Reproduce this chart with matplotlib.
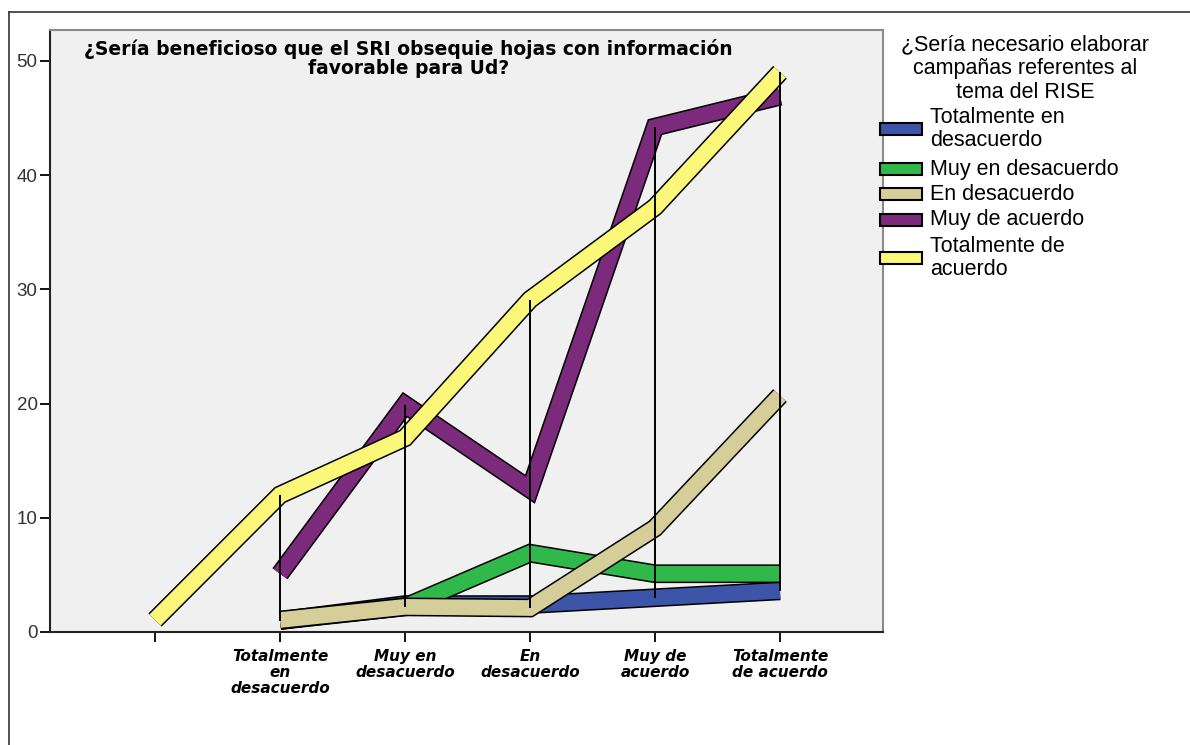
import matplotlib
matplotlib.use("Agg")
import matplotlib.pyplot as plt
import matplotlib.patheffects as pe
from matplotlib.lines import Line2D
from matplotlib.patches import Rectangle
import numpy as np

# categories along the x axis (first one is the blank / missing answer)
categories = ["", "Totalmente\nen\ndesacuerdo", "Muy en\ndesacuerdo", "En\ndesacuerdo",
              "Muy de\nacuerdo", "Totalmente\nde acuerdo"]

# one series per answer of the second question (nan = no value)
series_names = ["Totalmente en\ndesacuerdo", "Muy en desacuerdo", "En desacuerdo",
                "Muy de acuerdo", "Totalmente de\nacuerdo"]
tot_desacuerdo = [np.nan, 1.0, 2.4, 2.4, 3.0, 3.6]
muy_desacuerdo = [np.nan, 1.0, 2.2, 6.9, 5.1, 5.1]
en_desacuerdo = [np.nan, 1.05, 2.2, 2.1, 9.1, 20.7]
muy_acuerdo = [np.nan, 5.1, 19.9, 12.5, 44.2, 46.9]
tot_acuerdo = [1.05, 12.0, 17.0, 29.1, 37.2, 49.0]

colors = ["#3c55a9", "#30b84a", "#d5ce99", "#7c2a7c", "#fbf778"]

W, H = 1190, 745
fig = plt.figure(figsize=(W / 100, H / 100), dpi=100)
fig.patch.set_facecolor("white")

# plot area in pixels: left 50, right 883, top 30, bottom 632
ax = fig.add_axes([50 / W, (H - 632) / H, 833 / W, 602 / H])
ax.set_facecolor("#f0f0f0")

x = np.arange(len(categories))
all_series = [tot_desacuerdo, muy_desacuerdo, en_desacuerdo, muy_acuerdo, tot_acuerdo]

for vals, col in zip(all_series, colors):
    ax.plot(x, vals, color=col, lw=11.3, solid_joinstyle="miter", solid_capstyle="butt",
            path_effects=[pe.Stroke(linewidth=13.5, foreground="black",
                                    joinstyle="miter", capstyle="butt"),
                          pe.Normal()], zorder=2)

# drop lines from lowest to highest value at each category
data = np.array(all_series, dtype=float)
for i in x:
    col = data[:, i]
    col = col[~np.isnan(col)]
    if len(col) > 1:
        ax.vlines(i, col.min(), col.max(), color="black", lw=1.4, zorder=3)

ax.set_xlim(-0.84, 5.824)
ax.set_ylim(0, 52.7)
ax.set_yticks([0, 10, 20, 30, 40, 50])
ax.set_xticks(x)
ax.set_xticklabels(categories, fontsize=11, fontweight="heavy", fontstyle="italic",
                   linespacing=1.1, family="DejaVu Sans")
ax.tick_params(axis="y", length=7, width=1.3, labelsize=13.5, labelcolor="#333333",
               pad=2)
ax.tick_params(axis="x", length=7, width=1.3, pad=5)
for lab in ax.get_yticklabels():
    lab.set_family("Liberation Sans")

for side in ["left", "bottom"]:
    ax.spines[side].set_linewidth(1.5)
    ax.spines[side].set_color("#222222")
for side in ["top", "right"]:
    ax.spines[side].set_linewidth(1.5)
    ax.spines[side].set_color("#8a8a8a")

ax.text(0.43, 0.985,
        "¿Sería beneficioso que el SRI obsequie hojas con información\nfavorable para Ud?",
        transform=ax.transAxes, ha="center", va="top", fontsize=13.5,
        fontweight="bold", linespacing=1.0, family="DejaVu Sans")

# legend drawn on the right side of the figure
fig.text(1025 / W, 1 - 34 / H, "¿Sería necesario elaborar\ncampañas referentes al\ntema del RISE",
         ha="center", va="top", fontsize=15.5, family="Liberation Sans", linespacing=1.2)
legend_y = [129, 169, 194, 220, 258]
for name, col, yy in zip(series_names, colors, legend_y):
    fig.add_artist(Rectangle((880 / W, 1 - (yy + 6) / H), 42 / W, 12 / H,
                             facecolor=col, edgecolor="black", lw=1.5,
                             transform=fig.transFigure))
    fig.text(930 / W, 1 - yy / H, name, ha="left", va="center", fontsize=15.5,
             family="Liberation Sans", linespacing=1.1)

# outer frame lines
fig.add_artist(Line2D([9 / W, 9 / W], [0, 1 - 12 / H], color="#333333", lw=1.2,
                      transform=fig.transFigure))
fig.add_artist(Line2D([9 / W, 1], [1 - 12 / H, 1 - 12 / H], color="#333333", lw=1.2,
                      transform=fig.transFigure))

fig.savefig("out.png", dpi=100)
